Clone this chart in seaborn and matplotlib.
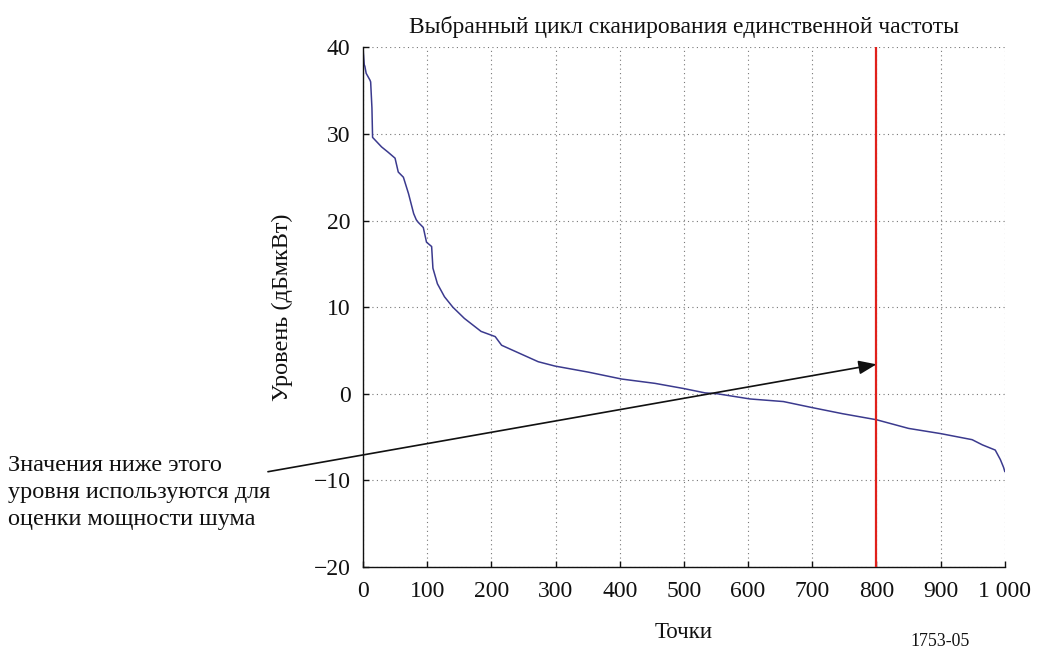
import matplotlib
matplotlib.use("Agg")
import matplotlib.pyplot as plt
import seaborn as sns
import pandas as pd

# Sorted levels of one scan cycle (point index, level in dBµW)
points = [0, 2, 3, 5, 11, 12, 14, 15, 29, 39, 50, 55, 63, 71, 79, 83, 86, 94, 99,
          107, 109, 116, 127, 140, 158, 184, 206, 216, 237, 273, 299, 351, 403,
          455, 500, 533, 552, 603, 655, 700, 747, 800, 850, 900, 949, 965, 985,
          993, 998, 1000]
levels = [40.0, 38.0, 37.8, 37.0, 36.2, 36.0, 33.0, 29.6, 28.5, 27.9, 27.2, 25.6,
          25.0, 23.1, 20.8, 20.1, 19.8, 19.2, 17.5, 17.0, 14.5, 12.7, 11.2, 10.0,
          8.7, 7.2, 6.6, 5.6, 4.9, 3.7, 3.2, 2.5, 1.7, 1.2, 0.6, 0.1, 0.0, -0.6,
          -0.9, -1.6, -2.3, -3.0, -4.0, -4.6, -5.3, -5.9, -6.5, -7.6, -8.5, -9.0]

threshold_point = 800
arrow_tail = (-148, -9.0)
arrow_head = (800, 3.4)

x_ticks = [0, 100, 200, 300, 400, 500, 600, 700, 800, 900, 1000]
x_tick_labels = ["0", "100", "200", "300", "400", "500", "600", "700", "800", "900", "1 000"]
y_ticks = [-20, -10, 0, 10, 20, 30, 40]

title = "Выбранный цикл сканирования единственной частоты"
x_label = "Точки"
y_label = "Уровень (дБмкВт)"
note = "Значения ниже этого\nуровня используются для\nоценки мощности шума"
figure_id = "1753-05"

sns.set_theme(style="white")
plt.rcParams["font.family"] = ["Liberation Serif", "DejaVu Serif"]

fig = plt.figure(figsize=(10.37, 6.57), dpi=100)
ax = fig.add_axes([0.350, 0.137, 0.619, 0.791])

df = pd.DataFrame({"point": points, "level": levels})
sns.lineplot(data=df, x="point", y="level", ax=ax, color="#3b3a8e", linewidth=1.1)

ax.axvline(threshold_point, color="#e0201b", linewidth=1.6, zorder=3)

ax.set_xlim(0, 1000)
ax.set_ylim(-20, 40)
ax.set_xticks(x_ticks)
ax.set_xticklabels(x_tick_labels)
ax.set_yticks(y_ticks)
ax.grid(True, linestyle=(0, (1, 3)), color="#777777", linewidth=0.8)
ax.tick_params(axis="both", direction="in", length=4, width=1, labelsize=17,
               colors="#111111", left=True, bottom=True)
ax.tick_params(axis="x", pad=10)
ax.tick_params(axis="y", pad=9)

for side in ("top", "right"):
    ax.spines[side].set_visible(False)
for side in ("left", "bottom"):
    ax.spines[side].set_color("#111111")
    ax.spines[side].set_linewidth(1.0)

ax.set_title(title, fontsize=17, pad=10, color="#111111")
ax.set_xlabel(x_label, fontsize=16.5, color="#111111", va="center")
ax.xaxis.set_label_coords(0.5, -0.127)
ax.set_ylabel(y_label, fontsize=17.5, color="#111111", va="center")
ax.yaxis.set_label_coords(-0.125, 0.5)

ax.annotate("", xy=arrow_head, xytext=arrow_tail, annotation_clip=False,
            arrowprops=dict(arrowstyle="-|>,head_length=0.9,head_width=0.35",
                            color="#111111", lw=1.2, shrinkA=0, shrinkB=0))

fig.text(0.008, 0.307, note, fontsize=17.5, ha="left", va="top",
         linespacing=1.38, color="#111111")
fig.text(0.907, 0.01, figure_id, fontsize=12.8, ha="center", va="bottom",
         color="#111111")

fig.savefig("out.png", dpi=100)
